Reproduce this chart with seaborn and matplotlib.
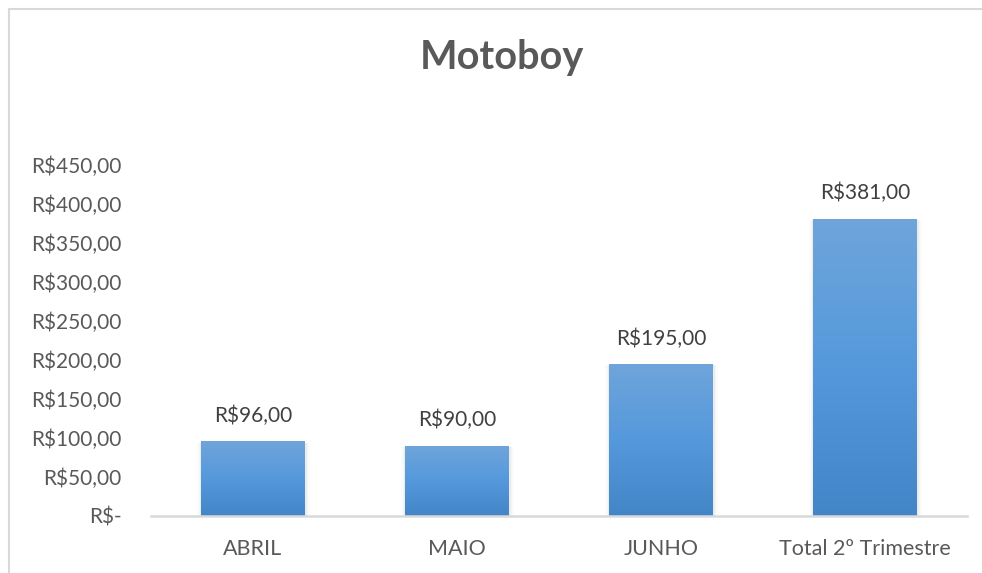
import numpy as np
import pandas as pd
import seaborn as sns
import matplotlib.pyplot as plt
from matplotlib.colors import LinearSegmentedColormap
from matplotlib.patches import Rectangle
from matplotlib.lines import Line2D

# Monthly delivery (motoboy) costs for the second quarter
categories = ["ABRIL", "MAIO", "JUNHO", "Total 2º Trimestre"]
values = [96, 90, 195, 381]
y_ticks = [0, 50, 100, 150, 200, 250, 300, 350, 400, 450]
title = "Motoboy"


def brl(v):
    if v == 0:
        return "R$-"
    return "R$" + f"{v:.2f}".replace(".", ",")


sns.set_theme(style="white")
plt.rcParams["font.family"] = ["Lato", "DejaVu Sans"]

W, H = 982, 573
fig = plt.figure(figsize=(W / 100, H / 100), dpi=100)
fig.patch.set_facecolor("white")
ax = fig.add_axes([151 / W, 57 / H, 816 / W, 351 / H])

df = pd.DataFrame({"categoria": categories, "valor": values})
sns.barplot(data=df, x="categoria", y="valor", ax=ax, width=0.505,
            color="#5b9bd5", saturation=1, errorbar=None)

ax.set_xlim(-0.5, len(categories) - 0.5)
ax.set_ylim(0, 450)

# pixel sizes in data units for shadow and gradient work
px_x = 1.0 / (816 / 4)
px_y = 450.0 / 351

grad_cmap = LinearSegmentedColormap.from_list(
    "barfill", ["#4286c8", "#5599dc", "#6fa5da"])
grad = np.linspace(0, 1, 256).reshape(-1, 1)

for patch in ax.patches:
    x0 = patch.get_x()
    w = patch.get_width()
    h = patch.get_height()
    # faint shadow along the sides and foot of each bar
    for k, a in [(5, 0.015), (3.5, 0.025), (2, 0.035)]:
        sh = Rectangle((x0 - k * px_x + 1 * px_x, -2.5 * px_y),
                       w + 2 * k * px_x - 1 * px_x,
                       h + 1 * px_y, facecolor="black", alpha=a, lw=0, zorder=1)
        ax.add_patch(sh)
    patch.set_zorder(2)
    patch.set_linewidth(0)
    img = ax.imshow(grad, extent=[x0, x0 + w, 0, h], origin="lower",
                    aspect="auto", cmap=grad_cmap, zorder=2.5)
    img.set_clip_path(patch)

ax.set_xlim(-0.5, len(categories) - 0.5)
ax.set_ylim(0, 450)

ax.bar_label(ax.containers[0], labels=[brl(v) for v in values], padding=11,
             fontsize=15, color="#404040")

ax.set_yticks(y_ticks)
ax.set_yticklabels([brl(v) for v in y_ticks])
ax.set_xlabel("")
ax.set_ylabel("")
ax.tick_params(axis="y", length=0, pad=21, labelsize=15, labelcolor="#595959")
ax.tick_params(axis="x", length=0, pad=16.5, labelsize=15.5, labelcolor="#595959")

for s in ["top", "right", "left"]:
    ax.spines[s].set_visible(False)
ax.spines["bottom"].set_color("#d9d9d9")
ax.spines["bottom"].set_linewidth(1.8)
ax.spines["bottom"].set_zorder(3)
ax.set_facecolor("none")

fig.text(502 / W, 1 - 57 / H, title, ha="center", va="center",
         fontsize=28.5, fontweight="bold", color="#595959")

# chart area frame
fig.add_artist(Line2D([8.5 / W, 8.5 / W], [0, 1 - 8.5 / H], color="#d9d9d9", lw=1.5))
fig.add_artist(Line2D([8.5 / W, 1], [1 - 8.5 / H, 1 - 8.5 / H], color="#d9d9d9", lw=1.5))

fig.savefig("out.png", dpi=100)
